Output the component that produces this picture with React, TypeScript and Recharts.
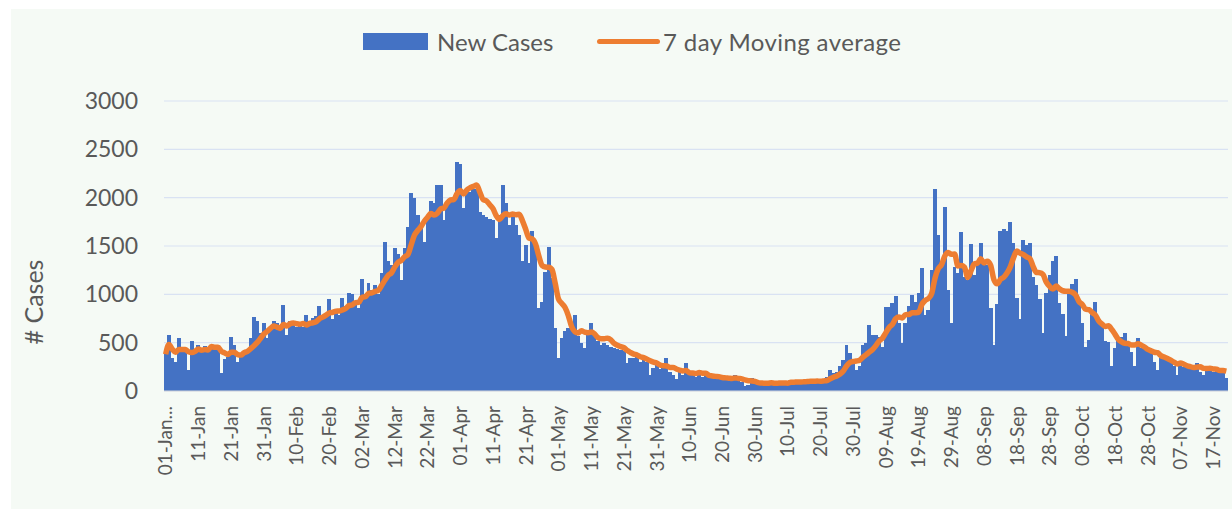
import React from 'react';
import { ComposedChart, Bar, Line, XAxis, YAxis, CartesianGrid, Legend } from 'recharts';

// daily new cases
const janCases = [380, 580, 340, 300, 550, 420, 430, 220, 520, 430, 480, 450, 470, 400, 480, 460, 430, 190, 330, 350, 560, 480, 300, 390, 370, 420, 550, 770, 720, 600, 700];
const febCases = [550, 640, 720, 700, 620, 890, 580, 720, 700, 660, 670, 660, 790, 700, 760, 780, 880, 780, 800, 950, 750, 840, 790, 960, 880, 1010, 1000, 920];
const marCases = [860, 1160, 1000, 1120, 1050, 1100, 1000, 1220, 1540, 1350, 1300, 1480, 1420, 1150, 1480, 1700, 2050, 2000, 1820, 1700, 1540, 1770, 1970, 1940, 2130, 2130, 1770, 1900, 1990, 2000, 2370];
const aprCases = [2350, 1890, 2060, 2060, 2090, 2090, 1850, 1820, 1800, 1780, 1770, 1580, 1820, 2130, 1950, 1720, 1850, 1720, 1610, 1340, 1510, 1320, 1660, 1475, 860, 925, 1230, 1490, 1165, 650];
const mayCases = [340, 550, 620, 650, 690, 790, 565, 500, 445, 580, 700, 565, 520, 480, 500, 480, 460, 440, 430, 420, 410, 290, 340, 340, 380, 300, 360, 300, 170, 240, 280];
const junCases = [230, 250, 340, 200, 170, 120, 200, 170, 290, 170, 180, 140, 190, 150, 160, 140, 130, 150, 120, 130, 120, 140, 120, 170, 110, 90, 50, 60, 130, 90];
const julCases = [80, 80, 70, 50, 90, 100, 100, 90, 80, 60, 110, 100, 110, 100, 110, 90, 80, 110, 120, 100, 120, 140, 220, 190, 200, 260, 320, 480, 390, 300, 220];
const augCases = [260, 480, 500, 680, 580, 580, 560, 460, 870, 870, 910, 980, 700, 500, 700, 880, 990, 920, 1010, 1270, 790, 840, 1250, 2090, 1610, 1300, 1900, 1045, 700, 1280, 1220];
const sepCases = [1650, 1180, 1150, 1520, 1200, 1340, 1530, 1350, 1300, 860, 480, 900, 1660, 1680, 1660, 1750, 1530, 960, 740, 1560, 1510, 1530, 1180, 1100, 950, 600, 1010, 1200, 1340, 1400];
const octCases = [910, 800, 565, 1010, 1110, 1155, 925, 700, 460, 530, 800, 925, 740, 700, 520, 510, 256, 450, 560, 560, 600, 500, 400, 256, 550, 450, 430, 420, 400, 300, 221];
const novCases = [340, 350, 320, 300, 260, 170, 290, 250, 240, 250, 240, 290, 200, 170, 240, 256, 200, 221, 190, 200, 136];

const monthNames = ['Jan', 'Feb', 'Mar', 'Apr', 'May', 'Jun', 'Jul', 'Aug', 'Sep', 'Oct', 'Nov'];
const monthly = [janCases, febCases, marCases, aprCases, mayCases, junCases, julCases, augCases, sepCases, octCases, novCases];
const yTicks = [0, 500, 1000, 1500, 2000, 2500, 3000];

const dates: string[] = [];
const cases: number[] = [];
monthly.forEach((m, mi) => m.forEach((v, di) => {
  dates.push(`${String(di + 1).padStart(2, '0')}-${monthNames[mi]}`);
  cases.push(v);
}));

// 7 day trailing average of the bars
const avg = cases.map((_, i) => {
  const win = cases.slice(Math.max(0, i - 6), i + 1);
  return win.reduce((a, b) => a + b, 0) / win.length;
});

const data = dates.map((date, i) => ({ date, cases: cases[i], avg: avg[i] }));

const FONT = 'Lato, "Open Sans", sans-serif';
const TEXT = '#595959';
const BLUE = '#4472C4';

const DateTick = (props: any) => {
  const { x, y, payload } = props;
  const label = payload.value === dates[0] ? `${payload.value}...` : payload.value;
  const ty = y + 7;
  return (
    <text x={x} y={ty} dy="0.36em" transform={`rotate(-90 ${x} ${ty})`} textAnchor="end" fill={TEXT} fontSize={19} fontFamily={FONT}>
      {label}
    </text>
  );
};

// recharts floors the bar width, so widen each bar a touch to close the hairline gaps
const DayBar = (props: any) => {
  const { x, y, width, height } = props;
  if (!height || height <= 0) return null;
  return <rect x={x - 0.4} y={y} width={width + 0.9} height={height} fill={BLUE} shapeRendering="crispEdges" />;
};

const renderLegend = () => (
  <div style={{ position: 'relative', height: 30, fontFamily: FONT, fontSize: 24, color: TEXT }}>
    <div style={{ position: 'absolute', left: 363, top: 5, width: 65, height: 17, background: BLUE }} />
    <span style={{ position: 'absolute', left: 437, top: 0, lineHeight: '28px' }}>New Cases</span>
    <div style={{ position: 'absolute', left: 597, top: 11, width: 63, height: 5, borderRadius: 3, background: '#ED7D31' }} />
    <span style={{ position: 'absolute', left: 663, top: 0, lineHeight: '28px', letterSpacing: 0.4 }}>7 day Moving average</span>
  </div>
);

export default function App() {
  return (
    <div style={{ position: 'absolute', left: 0, top: 0, width: 1232, height: 509, background: '#ffffff' }}>
      <div style={{ position: 'absolute', left: 11, top: 9, width: 1221, height: 500, background: '#F5FAF5' }} />
      <div style={{ position: 'absolute', left: 0, top: 0 }}>
        <ComposedChart width={1232} height={509} data={data} barCategoryGap={0} margin={{ top: 71, right: 4, bottom: 0, left: 0 }}>
          <CartesianGrid vertical={false} stroke="#D9E2F3" strokeWidth={1.2} />
          <Legend verticalAlign="top" height={30} content={renderLegend} wrapperStyle={{ top: 28, left: 0, width: 1232 }} />
          <XAxis dataKey="date" interval={9} tick={<DateTick />} tickLine={false} axisLine={{ stroke: '#D9D9D9' }} height={118} />
          <YAxis
            domain={[0, 3000]}
            ticks={yTicks}
            width={164}
            axisLine={false}
            tickLine={false}
            tickMargin={20}
            tick={{ fill: TEXT, fontSize: 23, fontFamily: FONT }}
            label={{
              content: () => (
                <text x={33} y={302} transform="rotate(-90 33 302)" textAnchor="middle" dominantBaseline="central" fill={TEXT} fontSize={25} fontFamily={FONT}>
                  # Cases
                </text>
              ),
            }}
          />
          <Bar dataKey="cases" name="New Cases" fill={BLUE} shape={<DayBar />} isAnimationActive={false} />
          <Line dataKey="avg" name="7 day Moving average" type="monotone" stroke="#ED7D31" strokeWidth={5.5} dot={false} strokeLinejoin="round" isAnimationActive={false} />
        </ComposedChart>
      </div>
    </div>
  );
}
